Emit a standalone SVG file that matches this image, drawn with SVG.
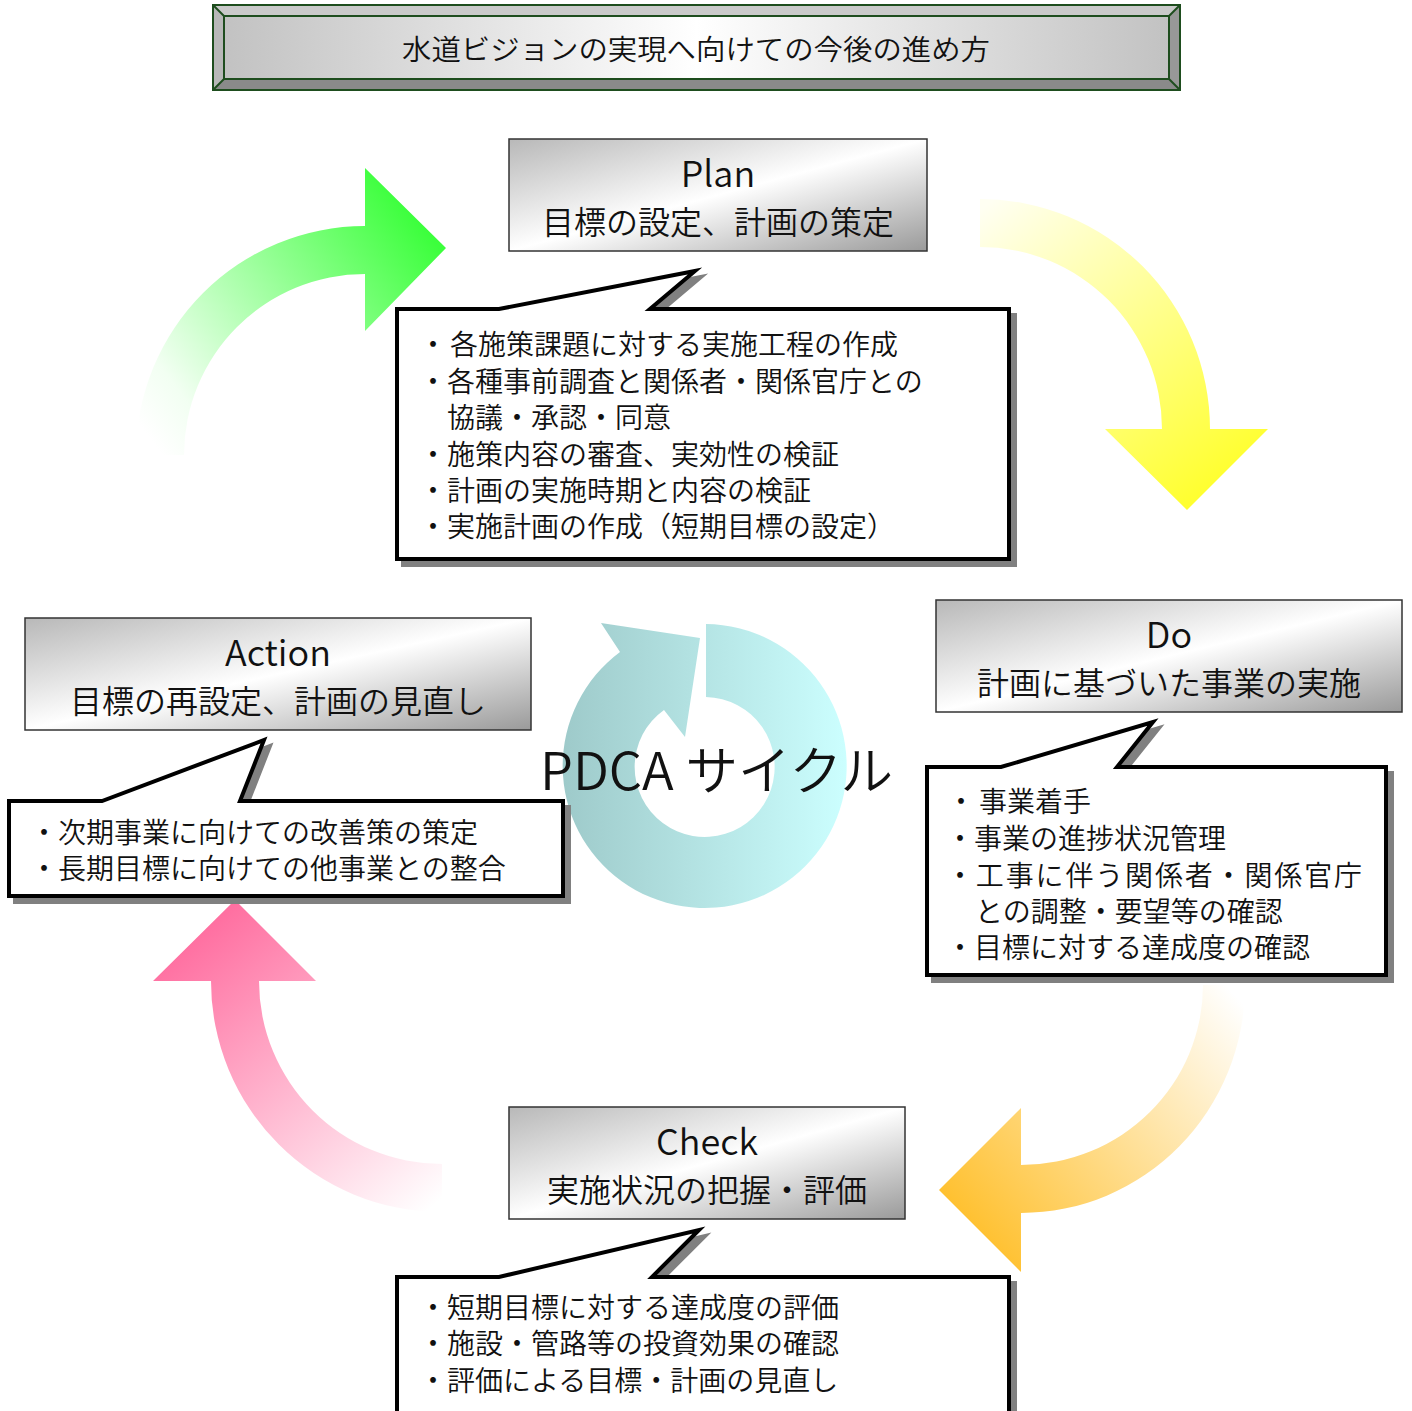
<svg xmlns="http://www.w3.org/2000/svg" width="1412" height="1411" viewBox="0 0 1412 1411">
<defs>
  <linearGradient id="boxg" x1="0" y1="0" x2="1" y2="1">
    <stop offset="0" stop-color="#b8b8b8"/>
    <stop offset="0.5" stop-color="#ffffff"/>
    <stop offset="1" stop-color="#9a9a9a"/>
  </linearGradient>
  <linearGradient id="titleg" x1="0" y1="0" x2="1" y2="0">
    <stop offset="0" stop-color="#c2c2c2"/>
    <stop offset="0.5" stop-color="#ffffff"/>
    <stop offset="1" stop-color="#c2c2c2"/>
  </linearGradient>
  <linearGradient id="ringg" gradientUnits="userSpaceOnUse" x1="563" y1="0" x2="849" y2="0">
    <stop offset="0" stop-color="#9ecaca"/>
    <stop offset="1" stop-color="#ccffff"/>
  </linearGradient>
  <linearGradient id="greeng" gradientUnits="userSpaceOnUse" x1="155" y1="445" x2="430" y2="235">
    <stop offset="0" stop-color="#ffffff"/>
    <stop offset="0.15" stop-color="#f2fff2"/>
    <stop offset="1" stop-color="#3cff3c"/>
  </linearGradient>
  <linearGradient id="yellowg" gradientUnits="userSpaceOnUse" x1="980" y1="210" x2="1200" y2="495">
    <stop offset="0" stop-color="#fffff2"/>
    <stop offset="1" stop-color="#ffff30"/>
  </linearGradient>
  <linearGradient id="orangeg" gradientUnits="userSpaceOnUse" x1="1235" y1="995" x2="960" y2="1230">
    <stop offset="0" stop-color="#ffffff"/>
    <stop offset="1" stop-color="#ffbf2a"/>
  </linearGradient>
  <linearGradient id="pinkg" gradientUnits="userSpaceOnUse" x1="440" y1="1200" x2="210" y2="920">
    <stop offset="0" stop-color="#ffffff"/>
    <stop offset="1" stop-color="#ff6ea0"/>
  </linearGradient>
</defs>
<style>
  text { font-family: "Noto Sans CJK JP", "Noto Sans", sans-serif; fill: #111; font-weight: 350; }
  .nodebox { fill: url(#boxg); stroke: #333; stroke-width: 1.5; }
  .tt { font-size: 32px; text-anchor: middle; }
  .tl { font-size: 36px; text-anchor: middle; }
  .co { font-size: 28px; }
  .shadow { fill: #808080; stroke: #808080; stroke-width: 4; stroke-linejoin: miter; stroke-miterlimit: 10; }
  .bubble { fill: #ffffff; stroke: #000; stroke-width: 4; stroke-linejoin: miter; stroke-miterlimit: 10; }
  .frame { stroke: #1e4d1e; stroke-width: 2; }
</style>

<!-- Title -->
<g id="title">
  <rect x="213" y="5" width="967" height="85" fill="#aaaaaa" class="frame"/>
  <polygon points="213,5 1180,5 1169,16 224,16" fill="#cacaca"/>
  <polygon points="213,5 224,16 224,79 213,90" fill="#b8b8b8"/>
  <polygon points="213,90 224,79 1169,79 1180,90" fill="#8a8a8a"/>
  <polygon points="1180,5 1180,90 1169,79 1169,16" fill="#989898"/>
  <rect x="213" y="5" width="967" height="85" fill="none" class="frame"/>
  <line x1="213" y1="5" x2="224" y2="16" class="frame" stroke-width="1"/>
  <line x1="1180" y1="5" x2="1169" y2="16" class="frame" stroke-width="1"/>
  <line x1="213" y1="90" x2="224" y2="79" class="frame" stroke-width="1"/>
  <line x1="1180" y1="90" x2="1169" y2="79" class="frame" stroke-width="1"/>
  <rect x="224" y="16" width="945" height="63" fill="url(#titleg)" class="frame"/>
  <text x="402" y="60" font-size="28" textLength="588" lengthAdjust="spacingAndGlyphs">水道ビジョンの実現へ向けての今後の進め方</text>
</g>

<!-- Cycle arrows (connectors) -->
<g id="connectors">
  <path id="arrow-act-plan" d="M 136,455 A 229 229 0 0 1 365,226 L 365,168 L 446,248 L 365,331 L 365,274 A 181 181 0 0 0 184,455 Z" fill="url(#greeng)"/>
  <path id="arrow-plan-do" d="M 980,199 A 230 230 0 0 1 1210,429 L 1268,429 L 1187,510 L 1105,429 L 1162,429 A 182 182 0 0 0 980,247 Z" fill="url(#yellowg)"/>
  <path id="arrow-do-check" d="M 1245,985 A 224 228 0 0 1 1021,1213 L 1021,1272 L 939,1190 L 1021,1108 L 1021,1165 A 182 180 0 0 0 1203,985 Z" fill="url(#orangeg)"/>
  <path id="arrow-check-act" d="M 442,1212 A 231 231 0 0 1 211,981 L 153,981 L 235,900 L 316,981 L 259,981 A 183 183 0 0 0 442,1164 Z" fill="url(#pinkg)"/>
</g>

<!-- Center cycle -->
<g id="pdca">
  <path d="M 706,624 A 142 142 0 1 1 620,652 L 601,623 L 700,638 L 685,737 L 664,710 A 70 70 0 1 0 706,697 Z" fill="url(#ringg)"/>
  <text x="540" y="790" font-size="52" textLength="353" lengthAdjust="spacingAndGlyphs">PDCA サイクル</text>
</g>

<!-- Plan -->
<g id="plan">
  <rect x="509" y="139" width="418" height="112" class="nodebox"/>
  <text x="718" y="187" class="tl">Plan</text>
  <text x="718" y="234" class="tt">目標の設定、計画の策定</text>
</g>
<g id="plan-notes">
  <polygon class="shadow" transform="translate(6,6)" points="397,309 499,309 695,271 650,309 1009,309 1009,559 397,559"/>
  <polygon class="bubble" points="397,309 499,309 695,271 650,309 1009,309 1009,559 397,559"/>
  <text class="co" x="419" y="355">・<tspan dx="3">各施策課題に対する実施工程の作成</tspan></text>
  <text class="co" x="419" y="392">・各種事前調査と関係者・関係官庁との</text>
  <text class="co" x="447" y="428">協議・承認・同意</text>
  <text class="co" x="419" y="465">・施策内容の審査、実効性の検証</text>
  <text class="co" x="419" y="501">・計画の実施時期と内容の検証</text>
  <text class="co" x="419" y="537">・実施計画の作成（短期目標の設定）</text>
</g>

<!-- Do -->
<g id="do">
  <rect x="936" y="600" width="466" height="112" class="nodebox"/>
  <text x="1169" y="648" class="tl">Do</text>
  <text x="1169" y="695" class="tt">計画に基づいた事業の実施</text>
</g>
<g id="do-notes">
  <polygon class="shadow" transform="translate(6,6)" points="927,767 1001,767 1153,722 1117,767 1386,767 1386,975 927,975"/>
  <polygon class="bubble" points="927,767 1001,767 1153,722 1117,767 1386,767 1386,975 927,975"/>
  <text class="co" x="947" y="812">・<tspan dx="4">事業着手</tspan></text>
  <text class="co" x="946" y="849">・事業の進捗状況管理</text>
  <text class="co" x="946" y="886" textLength="416" lengthAdjust="spacing">・工事に伴う関係者・関係官庁</text>
  <text class="co" x="975" y="922">との調整・要望等の確認</text>
  <text class="co" x="946" y="958">・目標に対する達成度の確認</text>
</g>

<!-- Check -->
<g id="check">
  <rect x="509" y="1107" width="396" height="112" class="nodebox"/>
  <text x="707" y="1155" class="tl">Check</text>
  <text x="707" y="1202" class="tt">実施状況の把握・評価</text>
</g>
<g id="check-notes">
  <polygon class="shadow" transform="translate(6,6)" points="397,1277 499,1277 699,1230 652,1277 1009,1277 1009,1430 397,1430"/>
  <polygon class="bubble" points="397,1277 499,1277 699,1230 652,1277 1009,1277 1009,1430 397,1430"/>
  <text class="co" x="419" y="1318">・短期目標に対する達成度の評価</text>
  <text class="co" x="419" y="1354">・施設・管路等の投資効果の確認</text>
  <text class="co" x="419" y="1391">・評価による目標・計画の見直し</text>
</g>

<!-- Action -->
<g id="action">
  <rect x="25" y="618" width="506" height="112" class="nodebox"/>
  <text x="278" y="666" class="tl">Action</text>
  <text x="278" y="713" class="tt">目標の再設定、計画の見直し</text>
</g>
<g id="action-notes">
  <polygon class="shadow" transform="translate(6,6)" points="9,801 102,801 264,740 240,801 563,801 563,896 9,896"/>
  <polygon class="bubble" points="9,801 102,801 264,740 240,801 563,801 563,896 9,896"/>
  <text class="co" x="30" y="843">・次期事業に向けての改善策の策定</text>
  <text class="co" x="30" y="879">・長期目標に向けての他事業との整合</text>
</g>
</svg>
